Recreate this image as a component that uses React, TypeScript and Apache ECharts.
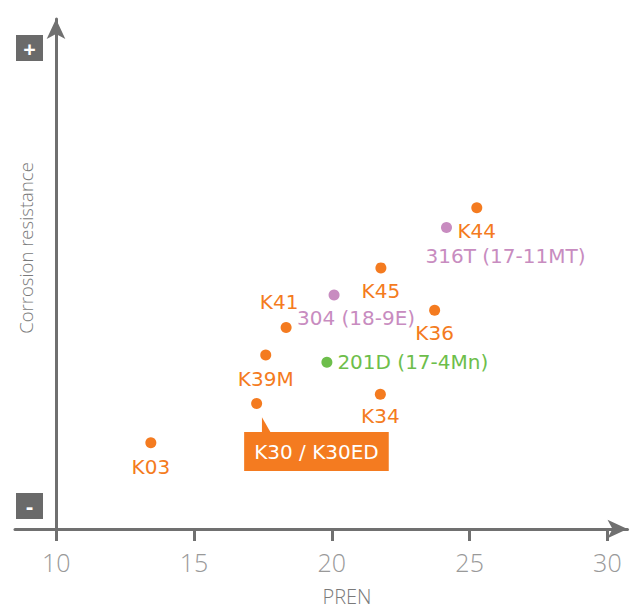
import React, { useEffect, useRef } from "react";
import * as echarts from "echarts";

const names = [
  "K03",
  "K30 / K30ED",
  "K39M",
  "K41",
  "K45",
  "K34",
  "K36",
  "K44",
  "304 (18-9E)",
  "316T (17-11MT)",
  "201D (17-4Mn)",
];
const pren = [13.43, 17.27, 17.6, 18.34, 21.78, 21.76, 23.73, 25.26, 20.08, 24.16, 19.82];
const corrosion = [16.9, 24.6, 34.1, 39.5, 51.2, 26.4, 42.9, 63.0, 45.9, 59.1, 32.7];
const family = ["K", "K", "K", "K", "K", "K", "K", "K", "austenitic", "austenitic", "duplex"];
const xTicks = [10, 15, 20, 25, 30];
const xTitle = "PREN";
const yTitle = "Corrosion resistance";

const ORANGE = "#F47B20";
const PURPLE = "#C88CC0";
const GREEN = "#6DBE4B";
const AXIS = "#707070";
const FONT = "'Open Sans', 'DejaVu Sans', sans-serif";
const LABEL_FONT = "'DejaVu Sans', 'Open Sans', sans-serif";

const familyColor: Record<string, string> = { K: ORANGE, austenitic: PURPLE, duplex: GREEN };

const labelCfg: Record<string, any> = {
  K03: { position: "bottom", distance: 9 },
  "K30 / K30ED": {
    position: [-7, 34],
    align: "left",
    verticalAlign: "top",
    color: "#fff",
    backgroundColor: ORANGE,
    padding: [8, 10, 8, 10],
    lineHeight: 23,
  },
  K39M: { position: "bottom", distance: 8 },
  K41: { position: "top", distance: 10, offset: [-7, 0] },
  K45: { position: "bottom", distance: 8 },
  K34: { position: "bottom", distance: 6 },
  K36: { position: "bottom", distance: 7 },
  K44: { position: "bottom", distance: 8 },
  "304 (18-9E)": { position: "bottom", distance: 8, offset: [22, 0] },
  "316T (17-11MT)": { position: "bottom", distance: 13, offset: [59, 0] },
  "201D (17-4Mn)": { position: "right", distance: 5 },
};

export default function App() {
  const ref = useRef<HTMLDivElement>(null);
  useEffect(() => {
    if (!ref.current) return;
    const chart = echarts.init(ref.current, null, { renderer: "svg" });
    const data = names.map((n, i) => ({
      name: n,
      value: [pren[i], corrosion[i]],
      itemStyle: { color: familyColor[family[i]], opacity: 1 },
      label: {
        show: true,
        formatter: "{b}",
        color: familyColor[family[i]],
        opacity: 1,
        fontSize: 20,
        lineHeight: 20,
        fontFamily: LABEL_FONT,
        ...labelCfg[n],
      },
    }));
    const option: any = {
      animation: false,
      grid: { left: 15, right: 10.5, top: 19, bottom: 79 },
      xAxis: {
        type: "value",
        min: 8.5,
        max: 30.73,
        splitLine: { show: false },
        axisLine: {
          show: true,
          lineStyle: { color: AXIS, width: 3 },
          symbol: ["none", "arrow"],
          symbolSize: [14, 20],
        },
        axisTick: { show: true, length: 12, lineStyle: { color: AXIS, width: 3 }, customValues: xTicks },
        axisLabel: {
          customValues: xTicks,
          color: "#999",
          fontSize: 25,
          fontFamily: FONT,
          fontWeight: 300,
          margin: 20,
        },
      },
      yAxis: {
        type: "value",
        min: 0,
        max: 100,
        offset: -41,
        splitLine: { show: false },
        axisLine: {
          show: true,
          onZero: false,
          lineStyle: { color: AXIS, width: 3 },
          symbol: ["none", "arrow"],
          symbolSize: [14, 20],
        },
        axisTick: { show: false },
        axisLabel: { show: false },
      },
      series: [
        {
          type: "scatter",
          symbolSize: 11,
          itemStyle: { opacity: 1 },
          emphasis: { disabled: true },
          data,
        },
      ],
      graphic: [
        { type: "rect", left: 16, top: 35, shape: { width: 27, height: 26 }, style: { fill: "#6A6A6A" } },
        {
          type: "text",
          x: 29.5,
          y: 48,
          style: { text: "+", fill: "#fff", fontSize: 22, fontWeight: "bold", fontFamily: FONT, align: "center", verticalAlign: "middle" },
        },
        { type: "rect", left: 16, top: 493, shape: { width: 27, height: 26 }, style: { fill: "#6A6A6A" } },
        {
          type: "text",
          x: 29.5,
          y: 505,
          style: { text: "-", fill: "#fff", fontSize: 22, fontWeight: "bold", fontFamily: FONT, align: "center", verticalAlign: "middle" },
        },
        {
          type: "text",
          x: 347,
          y: 596,
          style: { text: xTitle, fill: "#7a7a7a", fontSize: 20, fontWeight: 300, fontFamily: FONT, align: "center", verticalAlign: "middle" },
        },
        {
          type: "text",
          x: 25,
          y: 248,
          rotation: Math.PI / 2,
          style: { text: yTitle, fill: "#7a7a7a", fontSize: 18.5, fontWeight: 300, fontFamily: FONT, align: "center", verticalAlign: "middle" },
        },
      ],
    };
    chart.setOption(option);
    const i30 = names.indexOf("K30 / K30ED");
    const p = chart.convertToPixel({ seriesIndex: 0 }, [pren[i30], corrosion[i30]]) as number[];
    if (p) {
      chart.setOption({
        graphic: [
          ...option.graphic,
          {
            type: "polygon",
            shape: {
              points: [
                [p[0] + 5.3, p[1] + 13.7],
                [p[0] + 5.3, p[1] + 29.5],
                [p[0] + 14.3, p[1] + 29.5],
              ],
            },
            style: { fill: ORANGE },
          },
        ],
      });
    }
    return () => chart.dispose();
  }, []);
  return <div ref={ref} style={{ position: "absolute", left: 0, top: 0, width: 638, height: 608 }} />;
}
